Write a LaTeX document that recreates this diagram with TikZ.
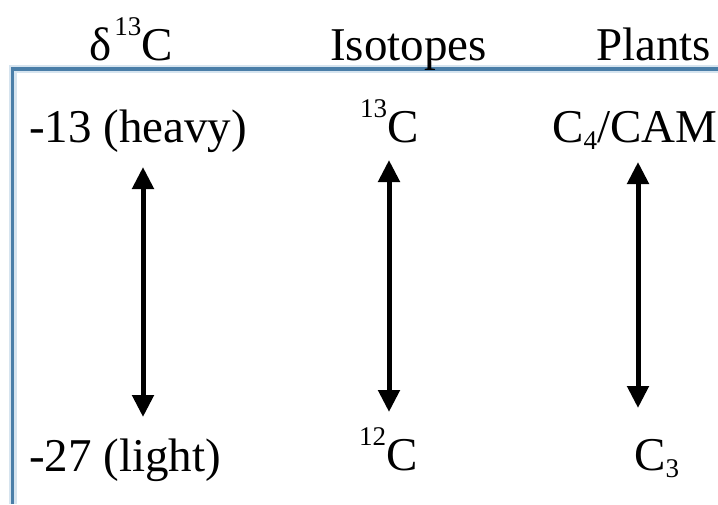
\documentclass[tikz,border=0pt]{standalone}
\usepackage{fontspec}
\setmainfont{Liberation Serif}
\usetikzlibrary{arrows.meta}
\definecolor{frameblue}{RGB}{74,126,168}
\definecolor{framelight}{RGB}{214,228,239}
\newcommand{\mysup}[1]{\raisebox{25pt}{\fontsize{27}{27}\selectfont #1}}
\newcommand{\mysub}[1]{\raisebox{-7pt}{\fontsize{27}{27}\selectfont #1}}
\begin{document}
\begin{tikzpicture}[x=1pt,y=-1pt,
  txt/.style={inner sep=0pt, anchor=base west, font=\fontsize{47}{56}\selectfont},
  dbl/.style={line width=5pt, {Triangle[width=21pt,length=22pt]}-{Triangle[width=21pt,length=22pt]}}]
\useasboundingbox (0,0) rectangle (718,504);
% frame
\draw[framelight, line width=8pt] (12.5,504) -- (12.5,69) -- (718,69);
\draw[frameblue, line width=3.6pt] (12.5,504) -- (12.5,69) -- (718,69);
% headers
\node[txt] (dh) at (89,60) {δ\hspace{3pt}\mysup{13}C};
\node[txt] (iso) at (330,60) {Isotopes};
\node[txt] (pl) at (596,60) {Plants};
% top row
\node[txt] (heavy) at (29,142) {-13 (heavy)};
\node[txt] (c13) at (360,142) {\mysup{13}C};
\node[txt] (c4) at (552,142) {C\mysub{4}/CAM};
% bottom row
\node[txt] (light) at (29,471) {-27 (light)};
\node[txt] (c12) at (359,470) {\mysup{12}C};
\node[txt] (c3) at (634,470) {C\mysub{3}};
% arrow ends
\coordinate (a1t) at (143,167);
\coordinate (a1b) at (143,417);
\coordinate (a2t) at (389,160);
\coordinate (a2b) at (389,412);
\coordinate (a3t) at (638,162);
\coordinate (a3b) at (638,408);
\draw[dbl] (a1t) -- (a1b);
\draw[dbl] (a2t) -- (a2b);
\draw[dbl] (a3t) -- (a3b);
\end{tikzpicture}
\end{document}
